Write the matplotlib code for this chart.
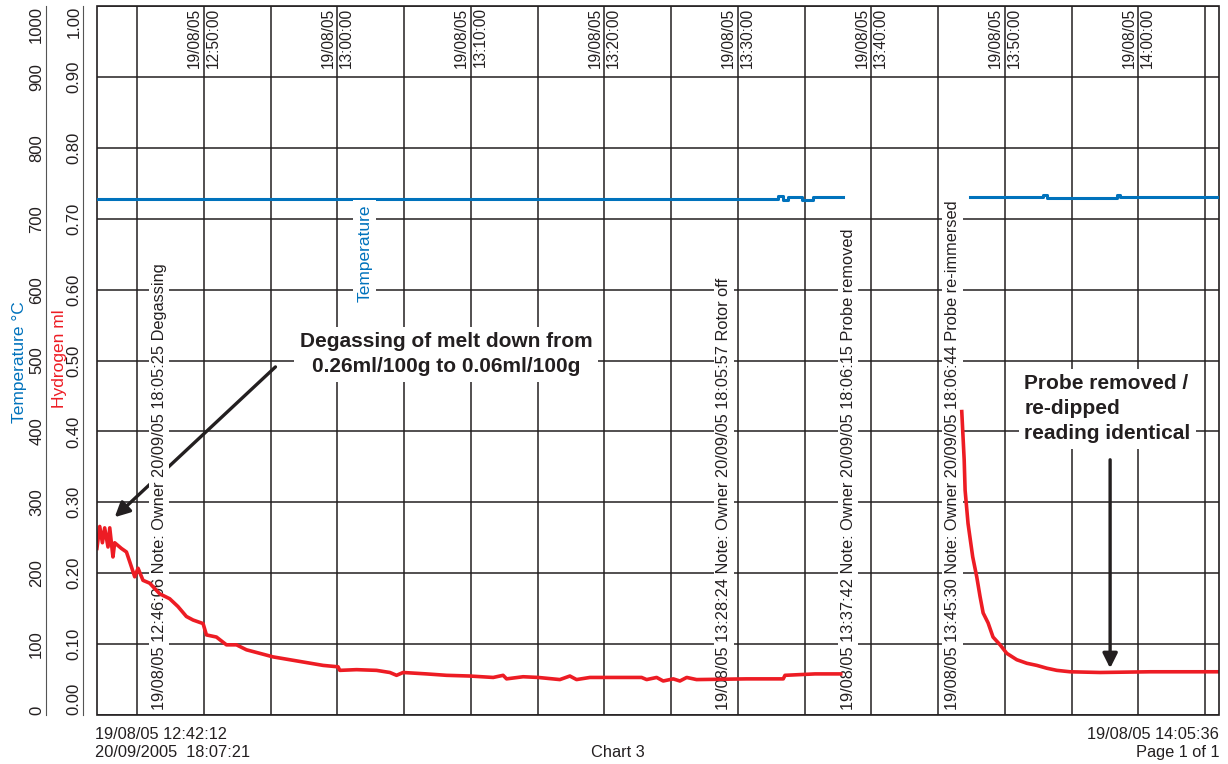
import matplotlib
matplotlib.use("Agg")
import matplotlib.pyplot as plt

plt.rcParams['font.family'] = ['Liberation Sans', 'DejaVu Sans']

INK = '#231f20'
RED = '#ed1c24'
BLUE = '#0072bc'

# time in minutes after 12:00 on 19/08/05
hyd1_t = [42.0, 42.21, 42.41, 42.58, 42.83, 42.96, 43.20, 43.33, 43.83, 44.21,
          44.46, 44.83, 45.08, 45.45, 45.95, 46.20, 46.70, 47.45, 48.07, 48.70,
          49.20, 49.95, 50.20, 50.95, 51.70, 52.45, 53.20, 54.20, 55.19, 56.44,
          57.69, 58.94, 60.06, 60.19, 61.44, 62.94, 63.94, 64.44, 64.93, 66.69,
          68.18, 69.93, 71.68, 72.42, 72.68, 73.92, 75.05, 76.67, 77.42, 77.92,
          78.92, 80.04, 82.79, 83.17, 83.92, 84.41, 85.16, 85.66, 86.17, 86.91,
          90.66, 93.40, 93.53, 95.78, 97.70]
hyd1_v = [0.235, 0.266, 0.243, 0.264, 0.237, 0.264, 0.223, 0.243, 0.235, 0.230,
          0.216, 0.195, 0.207, 0.190, 0.186, 0.181, 0.171, 0.164, 0.153, 0.139,
          0.134, 0.129, 0.113, 0.110, 0.099, 0.099, 0.092, 0.087, 0.082, 0.078,
          0.074, 0.070, 0.068, 0.063, 0.064, 0.063, 0.060, 0.056, 0.060, 0.058,
          0.056, 0.055, 0.053, 0.056, 0.051, 0.054, 0.053, 0.050, 0.055, 0.050,
          0.053, 0.053, 0.053, 0.050, 0.053, 0.048, 0.051, 0.048, 0.053, 0.050,
          0.051, 0.051, 0.056, 0.058, 0.058]

hyd2_t = [106.77, 106.95, 107.02, 107.24, 107.44, 107.59, 107.89, 108.14, 108.37,
          108.74, 109.11, 109.64, 110.14, 110.89, 111.64, 112.39, 113.14, 113.89,
          114.88, 117.13, 120.88, 125.97]
hyd2_v = [0.428, 0.36, 0.317, 0.27, 0.243, 0.223, 0.195, 0.167, 0.144,
          0.13, 0.11, 0.099, 0.087, 0.078, 0.073, 0.070, 0.066, 0.063,
          0.061, 0.060, 0.061, 0.061]

temp1_t = [41.97, 93.0, 93.38, 93.76, 94.78, 95.65, 97.9]
temp1_v = [728, 732, 727, 730, 726, 731, 731]
temp2_t = [107.4, 112.86, 113.16, 118.4, 118.6, 126.0]
temp2_v = [730, 733, 729, 733, 730, 730]

major_t = [50, 60, 70, 80, 90, 100, 110, 120]
major_lbl = ['19/08/05\n12:50:00', '19/08/05\n13:00:00', '19/08/05\n13:10:00',
             '19/08/05\n13:20:00', '19/08/05\n13:30:00', '19/08/05\n13:40:00',
             '19/08/05\n13:50:00', '19/08/05\n14:00:00']
minor_t = [45, 55, 65, 75, 85, 95, 105, 115, 125]

hyd_ticks = [0.0, 0.1, 0.2, 0.3, 0.4, 0.5, 0.6, 0.7, 0.8, 0.9, 1.0]
temp_ticks = [0, 100, 200, 300, 400, 500, 600, 700, 800, 900, 1000]

notes_t = [46.1, 88.4, 97.7, 105.5]
notes = ['19/08/05 12:46:06 Note: Owner 20/09/05 18:05:25 Degassing',
         '19/08/05 13:28:24 Note: Owner 20/09/05 18:05:57 Rotor off',
         '19/08/05 13:37:42 Note: Owner 20/09/05 18:06:15 Probe removed',
         '19/08/05 13:45:30 Note: Owner 20/09/05 18:06:44 Probe re-immersed']

fig = plt.figure(figsize=(12.28, 7.64), dpi=100)
ax = fig.add_axes([0.0786, 0.0641, 0.9137, 0.928])
ax.set_xlim(41.97, 126.0)
ax.set_ylim(0, 1)

# grid
ax.tick_params(axis='x', which='both', length=0, top=True, bottom=False,
               labeltop=True, labelbottom=False, pad=-1, labelsize=11.2, colors=INK)
ax.set_xticks(minor_t, minor=True)
ax.set_xticks(major_t, labels=major_lbl, rotation=90, va='top', ha='center',
              linespacing=1.3)
ax.grid(True, which='both', color=INK, lw=1.1, zorder=0)
ax.set_axisbelow(True)

# hydrogen axis (spine moved first: moving it resets the ticks)
ax.spines['left'].set_position(('outward', 9.7))
ax.spines['left'].set_linewidth(0.8)
ax.spines['left'].set_color('#555555')
for s in ['top', 'right', 'bottom']:
    ax.spines[s].set_visible(False)
ax.tick_params(axis='y', length=0, pad=1, labelsize=12, colors=INK, labelrotation=90)
ax.set_yticks(hyd_ticks, labels=[f'{v:.2f}' for v in hyd_ticks], va='center')
ax.get_yticklabels()[0].set_va('bottom')
ax.get_yticklabels()[-1].set_va('top')
ax.add_patch(plt.Rectangle((0, 0), 1, 1, transform=ax.transAxes, fill=False,
                           lw=1.2, ec=INK, clip_on=False, zorder=10))

# temperature axis
ax2 = ax.twinx()
ax2.set_ylim(0, 1000)
ax2.spines['left'].set_visible(True)
ax2.spines['left'].set_position(('outward', 36.7))
ax2.spines['left'].set_linewidth(0.8)
ax2.spines['left'].set_color('#555555')
for s in ['top', 'right', 'bottom']:
    ax2.spines[s].set_visible(False)
ax2.yaxis.tick_left()
ax2.tick_params(axis='y', length=0, pad=1, labelsize=12, colors=INK, labelrotation=90)
ax2.set_yticks(temp_ticks, labels=[str(v) for v in temp_ticks], va='center')
ax2.get_yticklabels()[0].set_va('bottom')
ax2.get_yticklabels()[-1].set_va('top')

# data
ax.plot(hyd1_t, hyd1_v, color=RED, lw=2.6, zorder=5)
ax.plot(hyd2_t, hyd2_v, color=RED, lw=2.6, zorder=5)
ax2.plot(temp1_t, temp1_v, color=BLUE, lw=2.2, drawstyle='steps-post')
ax2.plot(temp2_t, temp2_v, color=BLUE, lw=2.2, drawstyle='steps-post')
ax2.text(62.06, 652, 'Temperature', color=BLUE, fontsize=12.5, rotation=90,
         ha='center', va='center',
         bbox=dict(facecolor='white', edgecolor='none', pad=3))

# note markers
for t, s in zip(notes_t, notes):
    ax.text(t, 0.007, s, rotation=90, ha='left', va='bottom', fontsize=11.8,
            color=INK, zorder=3,
            bbox=dict(facecolor='white', edgecolor='none', pad=2))

# annotations
arrow = dict(arrowstyle='-|>', lw=2.4, color=INK, mutation_scale=22,
             shrinkA=0, shrinkB=0)
ax.annotate('', xy=(43.33, 0.279), xytext=(55.37, 0.491), arrowprops=arrow, zorder=2)
ax.annotate('', xy=(117.88, 0.066), xytext=(117.88, 0.36), arrowprops=arrow, zorder=2)
ax.text(68.13, 0.509, 'Degassing of melt down from\n0.26ml/100g to 0.06ml/100g',
        ha='center', va='center', fontsize=15, fontweight='bold', color=INK,
        linespacing=1.4, zorder=4,
        bbox=dict(facecolor='white', edgecolor='none', pad=4))
ax.text(111.44, 0.432, 'Probe removed /\nre-dipped\nreading identical',
        ha='left', va='center', fontsize=15, fontweight='bold', color=INK,
        linespacing=1.4, zorder=4,
        bbox=dict(facecolor='white', edgecolor='none', pad=4))

# axis titles
fig.text(0.0155, 0.526, 'Temperature °C', color=BLUE, fontsize=12.5,
         rotation=90, ha='center', va='center')
fig.text(0.0482, 0.530, 'Hydrogen ml', color=RED, fontsize=12.5,
         rotation=90, ha='center', va='center')

# footer
fig.text(0.0774, 0.038, '19/08/05 12:42:12', fontsize=11.8, color=INK, va='center')
fig.text(0.0774, 0.0144, '20/09/2005  18:07:21', fontsize=11.8, color=INK, va='center')
fig.text(0.503, 0.0144, 'Chart 3', fontsize=11.8, color=INK, ha='center', va='center')
fig.text(0.9927, 0.038, '19/08/05 14:05:36', fontsize=11.8, color=INK, ha='right', va='center')
fig.text(0.9927, 0.0144, 'Page 1 of 1', fontsize=11.8, color=INK, ha='right', va='center')

fig.savefig('out.png', dpi=100)
